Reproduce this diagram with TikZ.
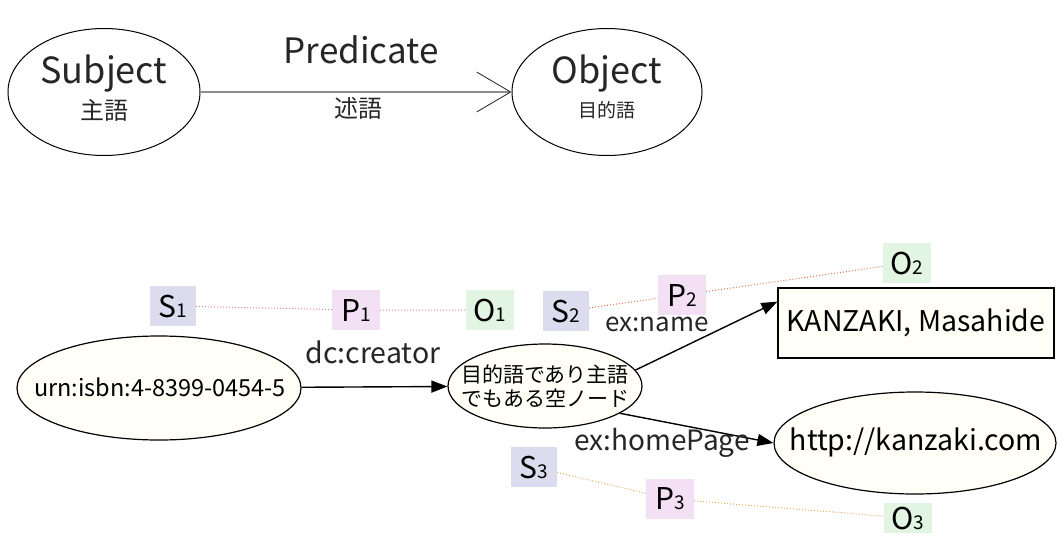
\documentclass[tikz,border=0pt]{standalone}
\usepackage{fontspec}
\setmainfont{Noto Sans CJK JP}
\usetikzlibrary{shapes.geometric,arrows.meta,calc}
\definecolor{sbox}{HTML}{DCDCEE}
\definecolor{pbox}{HTML}{F4E0F4}
\definecolor{obox}{HTML}{E2F4E2}
\definecolor{dotA}{HTML}{E08A8A}
\definecolor{dotB}{HTML}{E07A50}
\definecolor{dotC}{HTML}{E0B060}
\newcommand{\fsz}[1]{\fontsize{#1}{#1}\selectfont}
\newcommand{\spo}[2]{\fsz{30}#1\fsz{19}#2}
\begin{document}
\begin{tikzpicture}[x=1pt,y=-1pt,
  bigell/.style={draw=black, line width=1pt, ellipse, inner sep=0pt},
  smallell/.style={draw=black, line width=1.2pt, ellipse, inner sep=0pt, fill=yellow!3},
  lbl/.style={inner sep=0pt, text=black!85},
  tagS/.style={fill=sbox, minimum width=46, minimum height=40, inner sep=0pt},
  tagP/.style={fill=pbox, minimum width=48, minimum height=40, inner sep=0pt},
  tagO/.style={fill=obox, minimum width=48, minimum height=40, inner sep=0pt},
  rel/.style={line width=1.4pt, -{Triangle[length=16pt,width=12pt]}},
  dotl/.style={dotted, line width=1pt}
]
\useasboundingbox (0,0) rectangle (1062,533);
\fill[white] (0,0) rectangle (1062,533);

% ---------- top triple ----------
\node[bigell, minimum width=192, minimum height=127] (subj) at (104,92) {};
\node[lbl] (subjt) at (104,74) {\fsz{36}Subject};
\node[lbl] (subjj) at (104,110) {\fsz{24}主語};
\node[bigell, minimum width=190, minimum height=127] (obj) at (607,92) {};
\node[lbl] (objt) at (607,74) {\fsz{36}Object};
\node[lbl] (objj) at (607,110) {\fsz{19}目的語};
\draw[line width=2pt, black!45, -{Straight Barb[length=34pt,width=40pt,line width=0.9pt,color=black!80]}]
  (subj) -- (obj);
\node[lbl] (pred) at (361,50) {\fsz{35}Predicate};
\node[lbl] (predj) at (358,108) {\fsz{24}述語};

% ---------- triple tags ----------
\node[tagS] (s1) at (173,306) {\spo{S}{1}};
\node[tagP] (p1) at (356,310) {\spo{P}{1}};
\node[tagO] (o1) at (490,310) {\spo{O}{1}};
\node[tagS] (s2) at (566,311) {\spo{S}{2}};
\node[tagP] (p2) at (682,295) {\spo{P}{2}};
\node[tagO] (o2) at (907,263) {\spo{O}{2}};
\node[tagS] (s3) at (534,467) {\spo{S}{3}};
\node[tagP] (p3) at (670,499) {\spo{P}{3}};
\node[tagO, minimum height=30] (o3) at (908,518) {\spo{O}{3}};

\draw[dotl, dotA] (s1) -- (p1) -- (o1);
\draw[dotl, dotB] (s2) -- (p2) -- (o2);
\draw[dotl, dotC] (s3) -- (p3) -- (o3);

% ---------- graph ----------
\node[smallell, minimum width=284, minimum height=104] (urn) at (159,388) {};
\node[lbl, text=black] (urnt) at (160,387) {\fsz{23.5}urn:isbn:4-8399-0454-5};
\node[smallell, minimum width=194, minimum height=84] (blank) at (545,386) {};
\node[lbl, text=black, align=center] (blankt) at (545,386)
  {\fsz{21}目的語であり主語\\[4pt]\fsz{21}でもある空ノード};
\node[draw=black, line width=1.2pt, fill=yellow!3, minimum width=276, minimum height=70, inner sep=0pt] (kbox) at (916,323)
  {\fsz{28.5}KANZAKI, Masahide};
\node[smallell, minimum width=282, minimum height=102] (http) at (915,443) {};
\node[lbl, text=black] (httpt) at (916,442) {\fsz{28.5}http://kanzaki.com};

\draw[rel] (urn) -- (blank);
\draw[rel] (blank.10) -- ($(kbox.north west)!0.2!(kbox.south west)$);
\draw[rel] (blank.-20) -- (http.west);

\node[lbl] (dcc) at (373,352) {\fsz{28.5}dc:creator};
\node[lbl] (exn) at (657,324) {\fsz{26}ex:name};
\node[lbl] (exh) at (662,443) {\fsz{28}ex:homePage};
\end{tikzpicture}
\end{document}
